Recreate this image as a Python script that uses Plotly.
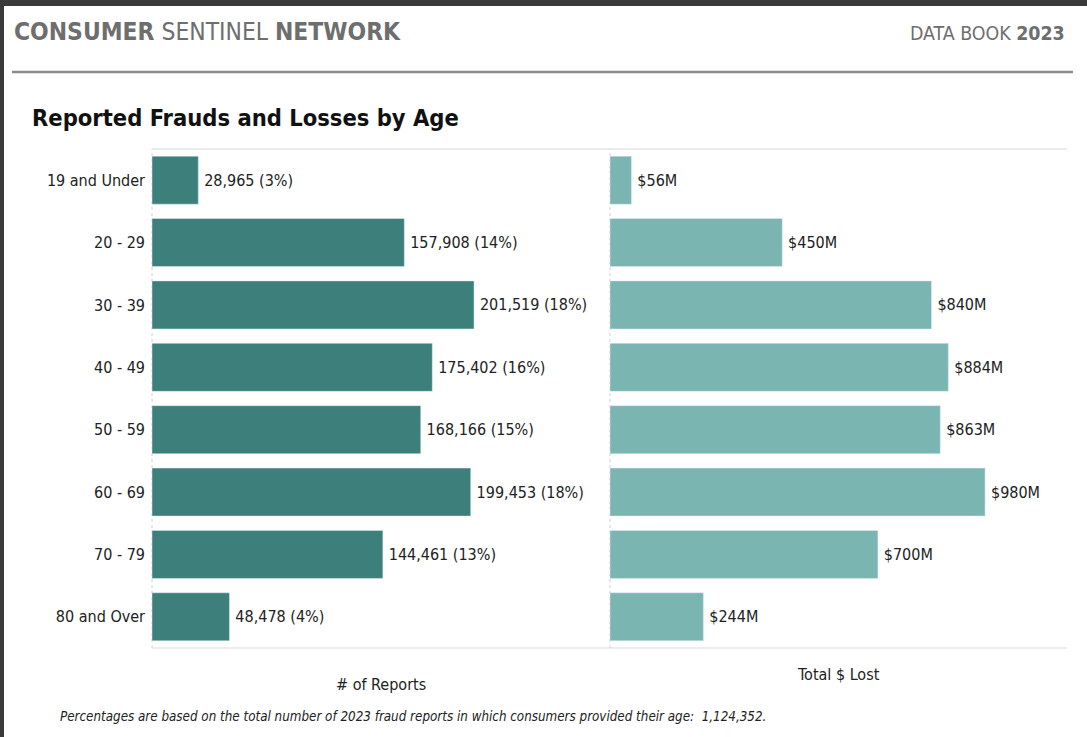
import plotly.graph_objects as go

W, H = 1087, 737

age_groups = ["19 and Under", "20 - 29", "30 - 39", "40 - 49", "50 - 59", "60 - 69", "70 - 79", "80 and Over"]
reports = [28965, 157908, 201519, 175402, 168166, 199453, 144461, 48478]
report_pct = [3, 14, 18, 16, 15, 18, 13, 4]
losses_m = [56, 450, 840, 884, 863, 980, 700, 244]

FONT = "Liberation Sans Narrow, DejaVu Sans Condensed, Arial Narrow, sans-serif"
DARK = "#3d7f7b"
LIGHT = "#7ab5b2"

def px(x):
    return x / W

def py(y):
    return 1 - y / H

report_labels = [f"\u2009{v:,} ({p}%)" for v, p in zip(reports, report_pct)]
loss_labels = [f"\u2009${v}M" for v in losses_m]

fig = go.Figure()
fig.add_trace(go.Bar(
    x=reports, y=age_groups, orientation="h", marker_color=DARK,
    text=report_labels, textposition="outside", cliponaxis=False,
    textfont=dict(size=16, color="#222", family=FONT),
    xaxis="x", yaxis="y", hoverinfo="skip",
))
fig.add_trace(go.Bar(
    x=losses_m, y=age_groups, orientation="h", marker_color=LIGHT,
    text=loss_labels, textposition="outside", cliponaxis=False,
    textfont=dict(size=16, color="#222", family=FONT),
    xaxis="x2", yaxis="y2", hoverinfo="skip",
))

xl0, xm, xr1 = 152, 610, 1067
yt, yb = 149, 648

fig.update_layout(
    width=W, height=H,
    margin=dict(l=0, r=0, t=0, b=0),
    paper_bgcolor="white", plot_bgcolor="white",
    showlegend=False, bargap=0.23,
    font=dict(family=FONT, color="#222"),
    xaxis=dict(domain=[px(xl0), px(xm)], range=[0, 286600], showticklabels=False,
               showgrid=False, zeroline=False, fixedrange=True),
    xaxis2=dict(domain=[px(xm), px(xr1)], range=[0, 1194], showticklabels=False,
                showgrid=False, zeroline=False, fixedrange=True),
    yaxis=dict(domain=[py(yb), py(yt)], categoryorder="array", categoryarray=age_groups,
               autorange="reversed", tickfont=dict(size=16, color="#222", family=FONT),
               ticks="", ticklabelstandoff=6, showgrid=False, zeroline=False),
    yaxis2=dict(domain=[py(yb), py(yt)], anchor="x2", categoryorder="array", categoryarray=age_groups,
                autorange="reversed", showticklabels=False, showgrid=False, zeroline=False,
                matches="y"),
)

shapes = []
# dark frame edges
shapes.append(dict(type="rect", xref="paper", yref="paper", x0=0, x1=1, y0=py(6), y1=1,
                   fillcolor="#3a3a3a", line=dict(width=0), layer="above"))
shapes.append(dict(type="rect", xref="paper", yref="paper", x0=0, x1=px(4), y0=0, y1=1,
                   fillcolor="#3a3a3a", line=dict(width=0), layer="above"))
# header rule
shapes.append(dict(type="line", xref="paper", yref="paper", x0=px(12), x1=px(1073), y0=py(72), y1=py(72),
                   line=dict(color="#8a8a8a", width=2.5)))
# panel frame lines
for yy in (yt, yb):
    shapes.append(dict(type="line", xref="paper", yref="paper", x0=px(xl0), x1=px(xr1), y0=py(yy), y1=py(yy),
                       line=dict(color="#d9d9d9", width=1.2), layer="below"))
for xx in (xl0, xm):
    shapes.append(dict(type="line", xref="paper", yref="paper", x0=px(xx), x1=px(xx), y0=py(yb), y1=py(yt),
                       line=dict(color="#d0d0d0", width=1, dash="dot"), layer="below"))

annotations = [
    dict(text="<b>CONSUMER</b> SENTINEL <b>NETWORK</b>", x=px(12), y=py(31), xanchor="left", yanchor="middle",
         font=dict(size=24.4, color="#6e6e6e", family=FONT)),
    dict(text="DATA BOOK <b>2023</b>", x=px(1067), y=py(33), xanchor="right", yanchor="middle",
         font=dict(size=19.4, color="#6e6e6e", family=FONT)),
    dict(text="<b>Reported Frauds and Losses by Age</b>", x=px(30), y=py(118), xanchor="left", yanchor="middle",
         font=dict(size=23.5, color="#111", family=FONT)),
    dict(text="# of Reports", x=px(381), y=py(684), xanchor="center", yanchor="middle",
         font=dict(size=16, color="#222", family=FONT)),
    dict(text="Total $ Lost", x=px(838), y=py(674), xanchor="center", yanchor="middle",
         font=dict(size=16, color="#222", family=FONT)),
    dict(text="<i>Percentages are based on the total number of 2023 fraud reports in which consumers provided their age:  1,124,352.</i>",
         x=px(58), y=py(716), xanchor="left", yanchor="middle",
         font=dict(size=13.3, color="#222", family=FONT)),
]
for a in annotations:
    a.update(xref="paper", yref="paper", showarrow=False)

fig.update_layout(shapes=shapes, annotations=annotations)
fig.write_html("out.html")
